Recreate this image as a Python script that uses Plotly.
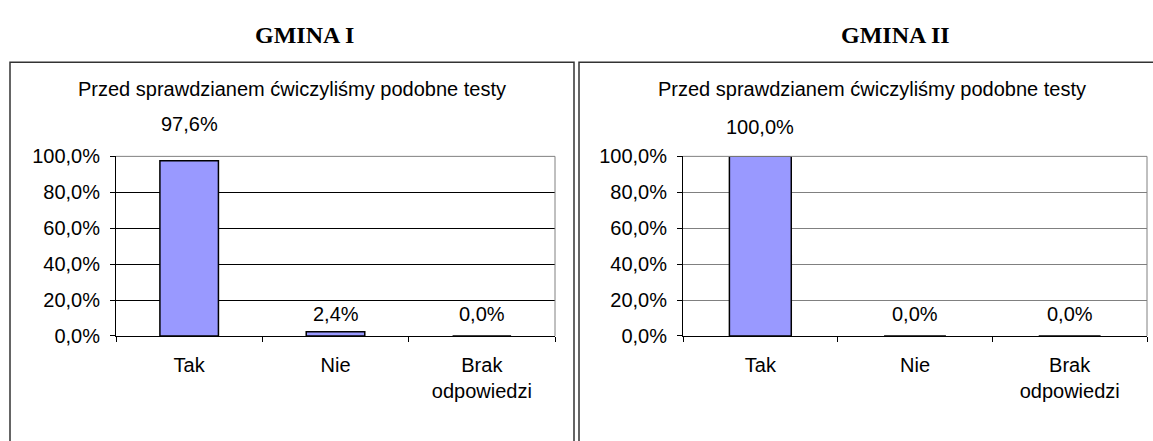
import plotly.graph_objects as go
from plotly.subplots import make_subplots

# data
categories = ["Tak", "Nie", "Brak<br>odpowiedzi"]
gmina_1 = [97.6, 2.4, 0.0]
gmina_2 = [100.0, 0.0, 0.0]
panel_titles = ["GMINA I", "GMINA II"]
chart_title = "Przed sprawdzianem ćwiczyliśmy podobne testy"

W, H = 1153, 441
font = "Liberation Sans, Arial, sans-serif"
fsize = 20


def px_x(x):
    return x / W


def px_y(y):
    return (H - y) / H


fig = make_subplots(rows=1, cols=2)

# bars
for col, vals in [(1, gmina_1), (2, gmina_2)]:
    fig.add_trace(go.Bar(
        x=categories, y=vals, width=0.40,
        marker=dict(color="#9999FF", line=dict(color="black", width=1.5)),
        showlegend=False, hoverinfo="skip"
    ), row=1, col=col)

# plot areas in pixels (left, right), shared top/bottom
areas = [(116, 555), (683, 1147)]
top_px, bot_px = 153, 342
grid_colors = ["black", "#808080"]

for i, (x0, x1) in enumerate(areas):
    n = "" if i == 0 else str(i + 1)
    fig.layout["xaxis" + n].update(
        domain=[px_x(x0), px_x(x1)], showline=True, linecolor="black", linewidth=1,
        ticks="outside", ticklen=5, tickcolor="black", tickson="boundaries",
        ticklabelstandoff=11, showgrid=False, zeroline=False,
        tickfont=dict(family=font, size=fsize, color="black"))
    fig.layout["yaxis" + n].update(
        domain=[px_y(bot_px), px_y(top_px)], range=[0, 100], dtick=20,
        tickformat=".1f", ticksuffix="%",
        showline=True, linecolor="black", linewidth=1, ticks="outside", ticklen=5,
        tickcolor="black", ticklabelstandoff=6, showgrid=True,
        gridcolor=grid_colors[i], gridwidth=1, zeroline=False,
        tickfont=dict(family=font, size=fsize, color="black"))
    # plot area border (top and right, gray)
    xr, yr = "x" + n + " domain", "y" + n + " domain"
    fig.add_shape(type="line", xref=xr, yref=yr, x0=0, x1=1, y0=1, y1=1,
                  line=dict(color="#808080", width=1))
    fig.add_shape(type="line", xref=xr, yref=yr, x0=1, x1=1, y0=0, y1=1,
                  line=dict(color="#808080", width=1))

# outer chart frames
boxes = [(10, 574), (579, 1170)]
for bx0, bx1 in boxes:
    fig.add_shape(type="rect", xref="paper", yref="paper",
                  x0=px_x(bx0), x1=px_x(bx1), y0=-0.1, y1=px_y(54),
                  line=dict(color="#333333", width=1.5))

# headings above frames
for name, cx in zip(panel_titles, [304, 895]):
    fig.add_annotation(text="<b>" + name + "</b>", xref="paper", yref="paper",
                       x=px_x(cx), y=px_y(25), showarrow=False,
                       xanchor="center", yanchor="middle",
                       font=dict(family="Liberation Serif, Times New Roman, serif", size=24, color="black"))

# chart titles
for cx in [292, 872]:
    fig.add_annotation(text=chart_title, xref="paper", yref="paper",
                       x=px_x(cx), y=px_y(82), showarrow=False,
                       xanchor="center", yanchor="middle",
                       font=dict(family=font, size=fsize, color="black"))

# data labels
label_shift = [[37, 18, 22], [29, 22, 22]]
for i, vals in enumerate([gmina_1, gmina_2]):
    n = "" if i == 0 else str(i + 1)
    for k, (v, s) in enumerate(zip(vals, label_shift[i])):
        fig.add_annotation(text=f"{v:.1f}%".replace(".", ","), xref="x" + n, yref="y" + n,
                           x=k, y=v, yshift=s, showarrow=False, yanchor="middle",
                           font=dict(family=font, size=fsize, color="black"))

fig.update_layout(
    width=W, height=H, margin=dict(l=0, r=0, t=0, b=0),
    paper_bgcolor="white", plot_bgcolor="white",
    separators=", ",
)

fig.write_html("out.html", config={"displayModeBar": False},
               post_script="document.body.style.margin='0';")
